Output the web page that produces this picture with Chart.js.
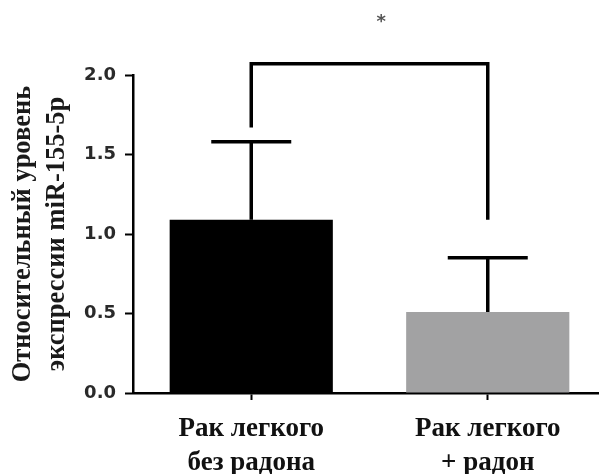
<!DOCTYPE html>
<html lang="ru">
<head>
<meta charset="utf-8">
<script src="https://cdn.jsdelivr.net/npm/chart.js@4.4.1/dist/chart.umd.min.js"></script>
<style>
    html, body { margin: 0; padding: 0; background: #fff; overflow: hidden; }
    #wrap { width: 599px; height: 474px; overflow: hidden; }
    canvas { display: block; }
</style>
</head>
<body>
<div id="wrap"><canvas id="chart" width="606" height="474"></canvas></div>
<script>
    // Chart data
    const categories = [['Рак легкого', 'без радона'], ['Рак легкого', '+ радон']];
    const meanValues = [1.09, 0.51];
    const errorTops = [1.58, 0.85];
    const barColors = ['#000000', '#a2a2a3'];
    const yTicks = [0, 0.5, 1.0, 1.5, 2.0];
    const yTitle = ['Относительный уровень', 'экспрессии miR-155-5p'];

    // Significance bracket (value units): left end, right end, top level
    const bracketEnds = [1.67, 1.09];
    const bracketTop = 2.07;
    const starLabel = '*';
    const starPos = [0.55, 2.35];

    // Error bars, bracket and star
    const annotations = {
        id: 'annotations',
        afterDatasetsDraw: function(chart) {
            const ctx = chart.ctx;
            const xs = chart.scales.x;
            const ys = chart.scales.y;
            const capHalf = 40;

            ctx.save();
            ctx.strokeStyle = '#000';
            ctx.lineWidth = 3.5;

            meanValues.forEach(function(v, i) {
                const cx = xs.getPixelForValue(i);
                const top = ys.getPixelForValue(errorTops[i]);
                ctx.beginPath();
                ctx.moveTo(cx, ys.getPixelForValue(v));
                ctx.lineTo(cx, top);
                ctx.moveTo(cx - capHalf, top);
                ctx.lineTo(cx + capHalf, top);
                ctx.stroke();
            });

            const x0 = xs.getPixelForValue(0);
            const x1 = xs.getPixelForValue(1);
            const yTop = ys.getPixelForValue(bracketTop);
            ctx.beginPath();
            ctx.moveTo(x0, ys.getPixelForValue(bracketEnds[0]));
            ctx.lineTo(x0, yTop);
            ctx.lineTo(x1, yTop);
            ctx.lineTo(x1, ys.getPixelForValue(bracketEnds[1]));
            ctx.stroke();

            ctx.fillStyle = '#555';
            ctx.font = 'bold 18px "DejaVu Sans"';
            ctx.textAlign = 'center';
            ctx.textBaseline = 'middle';
            ctx.fillText(starLabel, xs.getPixelForValue(starPos[0]), ys.getPixelForValue(starPos[1]) + 3);
            ctx.restore();
        }
    };

    new Chart(document.getElementById('chart'), {
        type: 'bar',
        data: {
            labels: categories,
            datasets: [{
                data: meanValues,
                backgroundColor: barColors,
                borderWidth: 0,
                barPercentage: 0.69,
                categoryPercentage: 1
            }]
        },
        options: {
            responsive: false,
            animation: false,
            layout: { padding: { top: 75, left: 0, right: 0, bottom: 0 } },
            plugins: {
                legend: { display: false },
                tooltip: { enabled: false }
            },
            scales: {
                x: {
                    offset: true,
                    afterFit: function(s) { s.height = 81; },
                    border: { display: true, color: '#000', width: 2.5 },
                    grid: {
                        offset: false,
                        drawOnChartArea: false,
                        tickLength: 7,
                        tickColor: '#000',
                        tickWidth: 2
                    },
                    ticks: {
                        autoSkip: false,
                        maxRotation: 0,
                        padding: 12,
                        color: '#111',
                        font: { family: '"Liberation Serif"', weight: 'bold', size: 27, lineHeight: 1.26 }
                    }
                },
                y: {
                    min: 0,
                    max: 2.0,
                    afterFit: function(s) { s.width = 133; },
                    afterBuildTicks: function(s) {
                        s.ticks = yTicks.map(function(v) { return { value: v }; });
                    },
                    border: { display: true, color: '#000', width: 2.5 },
                    grid: {
                        drawOnChartArea: false,
                        tickLength: 8,
                        tickColor: '#000',
                        tickWidth: 2
                    },
                    ticks: {
                        padding: 9,
                        color: '#2a2a2a',
                        font: { family: '"DejaVu Sans"', weight: 'bold', size: 18 },
                        callback: function(v) { return Number(v).toFixed(1); }
                    },
                    title: {
                        display: true,
                        text: yTitle,
                        color: '#1a1a1a',
                        padding: { top: 7, bottom: 0 },
                        font: { family: '"Liberation Serif"', weight: 'bold', size: 26.5, lineHeight: 1.25 }
                    }
                }
            }
        },
        plugins: [annotations]
    });
</script>
</body>
</html>
